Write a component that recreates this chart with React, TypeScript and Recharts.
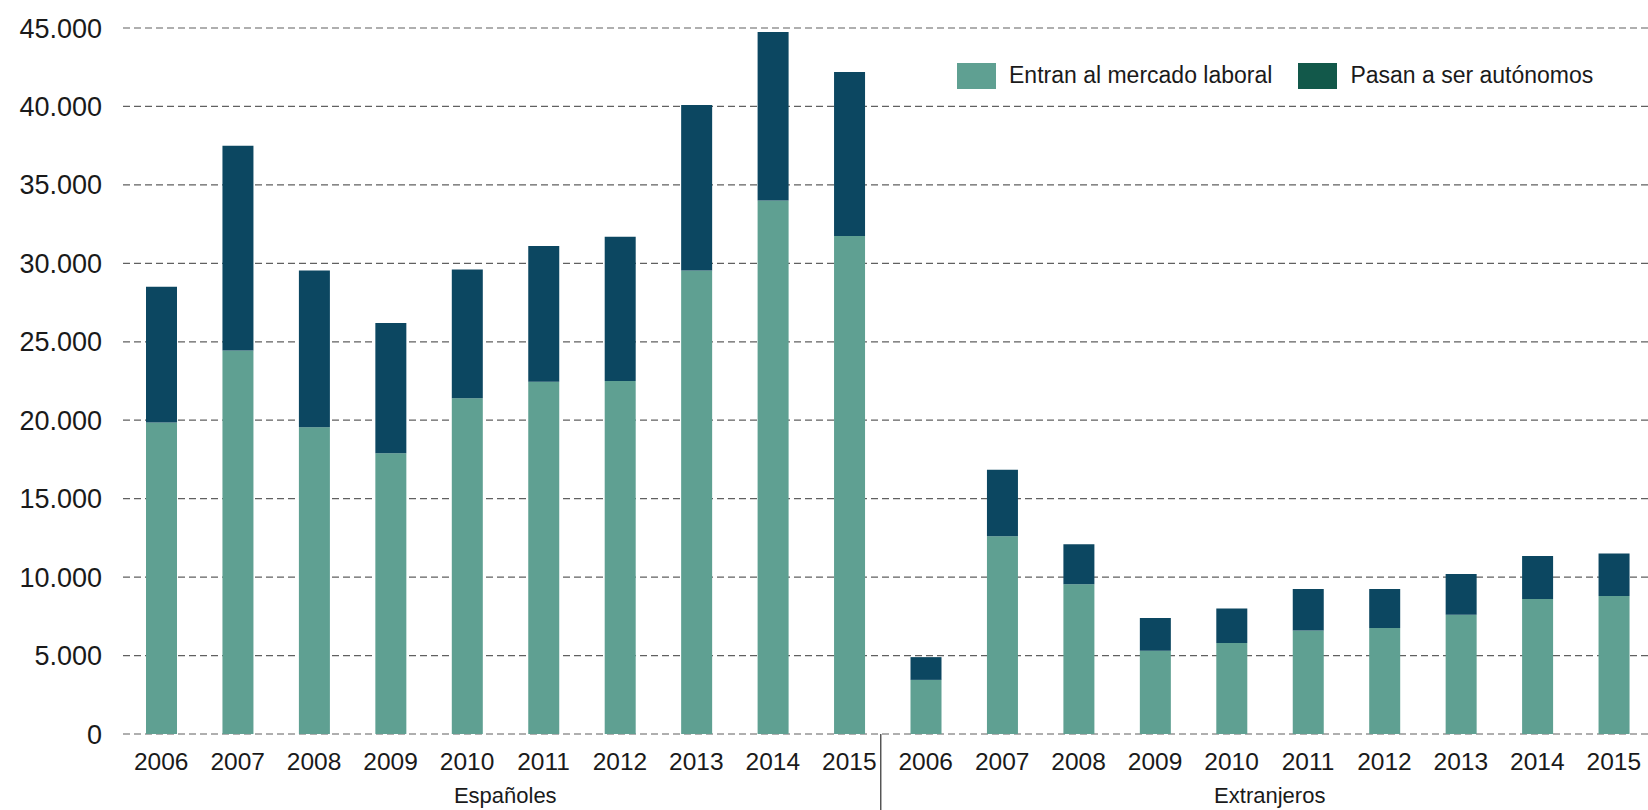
import React from "react";
import {
  BarChart, Bar, XAxis, YAxis, CartesianGrid, Legend,
} from "recharts";

const years = ["2006", "2007", "2008", "2009", "2010", "2011", "2012", "2013", "2014", "2015"];
const grupos = ["Españoles", "Extranjeros"];

// valores (personas)
const entranEsp = [19850, 24450, 19550, 17900, 21400, 22450, 22500, 29550, 34000, 31750];
const autonomosEsp = [8650, 13050, 10000, 8300, 8200, 8650, 9200, 10550, 10750, 10450];
const entranExt = [3450, 12600, 9550, 5300, 5800, 6600, 6750, 7600, 8600, 8800];
const autonomosExt = [1450, 4250, 2550, 2100, 2200, 2650, 2500, 2600, 2750, 2700];

const yTicks = [0, 5000, 10000, 15000, 20000, 25000, 30000, 35000, 40000, 45000];

const GREEN = "#5fa092";
const DARK = "#0c4761";
const LEGEND_DARK = "#12584a";
const FONT = "'Liberation Sans', Arial, sans-serif";
const INK = "#1a1a1a";

const data = [
  ...years.map((y, i) => ({ year: y, grupo: grupos[0], entran: entranEsp[i], autonomos: autonomosEsp[i] })),
  ...years.map((y, i) => ({ year: y, grupo: grupos[1], entran: entranExt[i], autonomos: autonomosExt[i] })),
];

const fmt = (v: number) => String(v).replace(/\B(?=(\d{3})+(?!\d))/g, ".");

const YearTick = (props: any) => {
  const { x, y, payload } = props;
  const idx = payload?.index ?? props.index;
  return (
    <g>
      <text x={x} y={y} dy="0.71em" textAnchor="middle" fontSize={24.5} fill={INK} fontFamily={FONT}>
        {payload.value}
      </text>
      {idx === years.length && (
        <line x1={x - 45} x2={x - 45} y1={y - 19} y2={y + 60} stroke="#555" strokeWidth={1.5} />
      )}
    </g>
  );
};

const GroupTick = (props: any) => {
  const { x, y, payload } = props;
  return (
    <text x={x} y={y} dy="0.71em" textAnchor="middle" fontSize={22} fill={INK} fontFamily={FONT}>
      {payload.value}
    </text>
  );
};

const legendColors: Record<string, string> = {
  "Entran al mercado laboral": GREEN,
  "Pasan a ser autónomos": LEGEND_DARK,
};

const renderLegend = (props: any) => {
  const items = props.payload || [];
  return (
    <div style={{ display: "flex", alignItems: "center", fontFamily: FONT, fontSize: 23, color: INK }}>
      {items.map((it: any) => (
        <div key={it.value} style={{ display: "flex", alignItems: "center", marginRight: 26 }}>
          <span
            style={{
              display: "inline-block",
              width: 39,
              height: 26,
              background: legendColors[it.value] || it.color,
              marginRight: 13,
            }}
          />
          <span style={{ whiteSpace: "nowrap" }}>{it.value}</span>
        </div>
      ))}
    </div>
  );
};

export default function App() {
  return (
    <div
      style={{
        position: "fixed",
        left: 0,
        top: 0,
        width: 1648,
        height: 810,
        overflow: "hidden",
        background: "#fff",
      }}
    >
      <BarChart
        width={1652}
        height={810}
        data={data}
        margin={{ top: 28, right: 0, bottom: 0, left: 0 }}
        barSize={31}
      >
        <CartesianGrid vertical={false} stroke="#606060" strokeWidth={1.2} strokeDasharray="7 4" />
        <XAxis
          dataKey="year"
          axisLine={false}
          tickLine={false}
          tickSize={6}
          tickMargin={13}
          height={44}
          interval={0}
          tick={<YearTick />}
        />
        <XAxis
          xAxisId="grupo"
          dataKey="grupo"
          allowDuplicatedCategory={false}
          axisLine={false}
          tickLine={false}
          tickSize={0}
          tickMargin={9}
          height={32}
          interval={0}
          tick={<GroupTick />}
        />
        <YAxis
          width={123}
          domain={[0, 45000]}
          ticks={yTicks}
          interval={0}
          axisLine={false}
          tickLine={false}
          tickSize={6}
          tickMargin={15}
          tickFormatter={fmt}
          tick={{ fontSize: 27, fill: INK, fontFamily: FONT }}
        />
        <Legend
          layout="vertical"
          align="center"
          verticalAlign="middle"
          content={renderLegend}
          wrapperStyle={{ top: 62, left: 957, width: 690, height: 26 }}
        />
        <Bar dataKey="entran" name="Entran al mercado laboral" stackId="a" fill={GREEN} isAnimationActive={false} />
        <Bar dataKey="autonomos" name="Pasan a ser autónomos" stackId="a" fill={DARK} isAnimationActive={false} />
      </BarChart>
    </div>
  );
}
